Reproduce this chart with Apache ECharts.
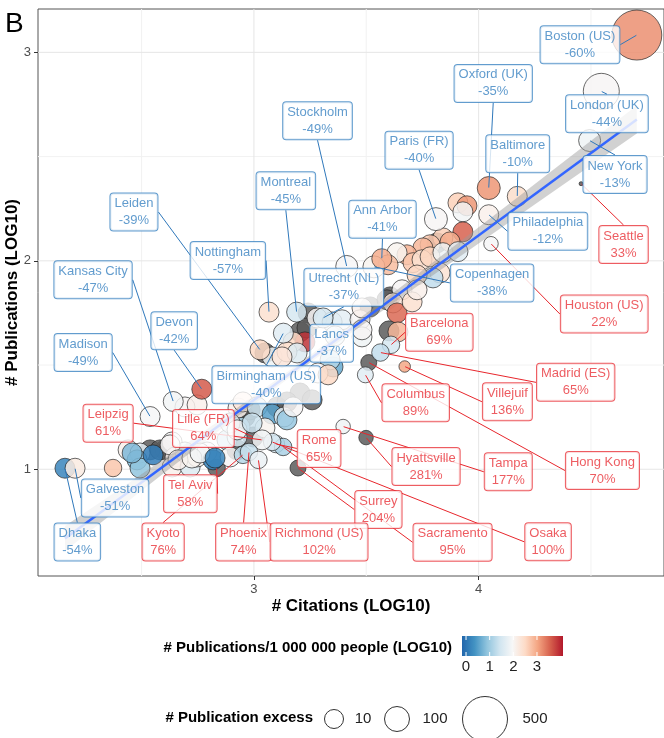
<!DOCTYPE html>
<html>
<head>
<meta charset="utf-8">
<script src="https://cdn.jsdelivr.net/npm/echarts@6/dist/echarts.min.js"></script>
<style>
  html, body { margin: 0; padding: 0; background: #fff; }
  #chart { width: 664px; height: 738px; }
</style>
</head>
<body>
<div id="chart"></div>
<script>
// labelled cities: log10 citations, log10 publications, log10 pubs per million (null = n/a), publication excess
const cityNames = ['Boston (US)', 'London (UK)', 'New York', 'Seattle', 'Oxford (UK)', 'Baltimore', 'Paris (FR)', 'Philadelphia',
  'Houston (US)', 'Copenhagen', 'Ann Arbor', 'Stockholm', 'Utrecht (NL)', 'Lancs', 'Nottingham', 'Montreal', 'Leiden',
  'Kansas City', 'Madison', 'Devon', 'Birmingham (US)', 'Dhaka', 'Galveston', 'Barcelona', 'Madrid (ES)', 'Villejuif',
  'Hong Kong', 'Columbus', 'Hyattsville', 'Tampa', 'Rome', 'Surrey', 'Sacramento', 'Osaka', 'Leipzig', 'Lille (FR)',
  'Tel Aviv', 'Kyoto', 'Phoenix', 'Richmond (US)'];
const cityPct = [-60, -44, -13, 33, -35, -10, -40, -12, 22, -38, -41, -49, -37, -37, -57, -45, -39, -47, -49, -42, -40, -54, -51,
  69, 65, 136, 70, 89, 281, 177, 65, 204, 95, 100, 61, 64, 58, 76, 74, 102];
const cityX = [4.704, 4.546, 4.494, 4.456, 4.045, 4.172, 3.810, 4.045, 4.055, 3.534, 3.569, 3.413, 3.308, 3.361, 3.067, 3.190,
  3.027, 2.641, 2.538, 2.768, 3.131, 2.159, 2.204, 3.610, 3.563, 3.671, 3.511, 3.496, 3.499, 3.397, 3.098, 3.196, 3.130, 3.081,
  3.036, 2.996, 2.834, 2.951, 2.978, 3.020];
const cityY = [3.083, 2.813, 2.577, 2.370, 2.349, 2.309, 2.200, 2.221, 2.082, 1.971, 2.010, 1.973, 1.726, 1.640, 1.754, 1.754,
  1.573, 1.325, 1.253, 1.384, 1.653, 1.005, 1.005, 1.597, 1.560, 1.493, 1.512, 1.453, 1.152, 1.205, 1.121, 1.006, 1.107, 1.131,
  1.141, 1.155, 1.006, 1.069, 1.083, 1.045];
const cityRate = [3.2, 2.0, 1.85, null, 3.15, 2.45, 2.0, 2.1, 1.95, 2.05, 2.95, 1.95, 1.5, 1.6, 2.4, 1.5, 2.5, 1.9, 1.95, 3.6,
  1.65, 0.2, 2.2, 1.5, 1.3, 3.0, null, 1.65, null, 1.85, 1.45, null, 1.1, 1.5, 1.9, null, null, 1.2, 1.35, 1.8];
const cityExcess = [611, 320, 55, 0, 70, 25, 70, 25, 7, 55, 25, 55, 25, 25, 25, 25, 25, 25, 25, 25, 25, 25, 25, 9, 9, 5, 8, 8,
  7, 7, 9, 8, 9, 9, 25, 25, 9, 9, 9, 9];

// where each label box sits (data units, layout only)
const labelX = [4.451, 4.571, 4.607, 4.645, 4.065, 4.174, 3.735, 4.308, 4.559, 4.060, 3.572, 3.283, 3.400, 3.346, 2.884, 3.142,
  2.466, 2.284, 2.240, 2.645, 3.055, 2.214, 2.382, 3.825, 4.432, 4.128, 4.551, 3.720, 3.766, 4.132, 3.290, 3.554, 3.884, 4.309,
  2.351, 2.775, 2.717, 2.596, 2.954, 3.290];
const labelY = [3.037, 2.706, 2.414, 2.078, 2.851, 2.514, 2.530, 2.142, 1.745, 1.894, 2.199, 2.672, 1.873, 1.604, 2.001, 2.336,
  2.234, 1.909, 1.560, 1.665, 1.405, 0.651, 0.862, 1.657, 1.417, 1.324, 0.994, 1.319, 1.013, 0.988, 1.100, 0.807, 0.650, 0.652,
  1.221, 1.196, 0.883, 0.651, 0.651, 0.651];

// unlabelled cities
const otherX = [3.908, 3.948, 3.930, 3.930, 3.841, 3.873, 3.784, 3.815, 3.752, 3.681, 3.637, 3.597, 3.708, 3.748, 3.784, 3.841,
  3.908, 3.828, 3.797, 3.726, 3.606, 3.659, 3.241, 3.281, 3.348, 3.392, 3.472, 3.481, 3.517, 3.592, 3.619, 3.637, 3.704, 3.726,
  3.205, 3.227, 3.174, 3.236, 3.049, 3.081, 3.147, 3.192, 3.352, 3.339, 3.481, 3.481, 3.601, 3.641, 3.125, 2.373, 2.440, 2.493,
  2.480, 2.493, 2.458, 2.551, 2.604, 2.538, 2.636, 2.649, 2.693, 2.636, 2.716, 2.747, 2.791, 2.818, 2.693, 2.747, 2.880, 2.938,
  2.960, 2.929, 2.983, 2.951, 3.014, 3.081, 3.134, 3.147, 3.103, 3.174, 2.925, 3.049, 2.894, 2.925, 2.992, 2.894, 2.925, 2.582,
  2.627, 2.662, 2.724, 2.760, 2.827, 3.205, 3.259, 3.285, 3.330, 3.147];
const otherY = [2.278, 2.264, 2.235, 2.139, 2.110, 2.091, 2.077, 2.086, 2.062, 2.029, 2.039, 1.981, 1.991, 2.005, 2.019, 2.039,
  2.044, 1.942, 1.918, 1.932, 1.827, 1.861, 1.750, 1.726, 1.707, 1.717, 1.717, 1.774, 1.779, 1.813, 1.798, 1.750, 1.803, 1.861,
  1.659, 1.611, 1.611, 1.678, 1.558, 1.539, 1.563, 1.558, 1.491, 1.525, 1.635, 1.669, 1.664, 1.659, 1.539, 1.006, 1.093, 1.078,
  1.045, 1.006, 1.078, 1.069, 1.093, 1.093, 1.131, 1.059, 1.083, 1.011, 1.011, 1.059, 1.083, 1.045, 1.299, 1.309, 1.141, 1.203,
  1.251, 1.294, 1.285, 1.323, 1.299, 1.265, 1.251, 1.237, 1.299, 1.299, 1.155, 1.198, 1.222, 1.189, 1.222, 1.059, 1.093, 1.093,
  1.117, 1.045, 1.054, 1.078, 1.054, 1.366, 1.333, 1.462, 1.453, 1.323];
const otherRate = [2.6, 3.15, 1.9, 3.55, 2.6, 2.95, 2.7, null, 2.85, 2.9, 2.05, 2.8, 2.7, 2.4, 2.55, 1.85,
  1.65, 2.35, 1.3, 2.5, null, 2.0, null, 2.0, 1.45, 1.7, 2.0, 2.1, null, null, 2.3, 3.5, 2.4, 2.1,
  null, 3.9, 2.5, null, null, 1.85, 2.4, 1.6, 0.6, 1.2, 1.85, 2.0, null, 2.85, 2.3, 2.7, 2.1, 1.7,
  0.8, 0.9, 0.75, 0.1, null, null, 2.0, 2.1, 1.7, 2.1, 1.6, 2.05, 1.9, 0.15, 2.0, 2.1, 1.2, 1.1,
  null, 2.1, null, 2.3, 1.4, 0.5, 1.7, 0.95, null, 2.0, 1.5, 2.05, 1.6, 2.0, 1.4, 2.0, null, null,
  2.0, 2.1, 2.05, 1.9, 0.2, null, null, 2.0, 2.5, null];
const otherExcess = [25, 25, 25, 25, 25, 25, 25, 25, 25, 25, 25, 25, 25, 25, 25, 25,
  25, 25, 25, 25, 25, 25, 25, 25, 25, 25, 25, 25, 25, 25, 25, 25, 25, 25,
  25, 25, 25, 25, 25, 25, 25, 25, 25, 25, 25, 25, 25, 25, 25, 9, 25, 25,
  25, 25, 25, 25, 25, 25, 25, 25, 25, 25, 25, 25, 25, 25, 25, 25, 25, 25,
  25, 25, 25, 25, 25, 25, 25, 25, 25, 25, 25, 25, 25, 25, 25, 25, 25, 25,
  25, 25, 25, 25, 25, 25, 25, 25, 25, 25];

// linear fit and its confidence band
const fitX = [2.159, 4.704];
const fitY = [0.668, 2.678];
const bandX = [2.159, 2.4, 2.6, 2.8, 3.0, 3.2, 3.4, 3.6, 3.8, 4.0, 4.2, 4.4, 4.6, 4.704];
const bandLo = [0.608, 0.813, 0.982, 1.149, 1.313, 1.473, 1.629, 1.782, 1.933, 2.083, 2.233, 2.383, 2.533, 2.611];
const bandHi = [0.728, 0.903, 1.050, 1.199, 1.351, 1.507, 1.667, 1.830, 1.995, 2.161, 2.327, 2.493, 2.659, 2.745];

// axes and legends
const xMajor = [3, 4], xMinor = [2.5, 3.5, 4.5];
const yMajor = [1, 2, 3], yMinor = [1.5, 2.5];
const rateTicks = [0, 1, 2, 3];
const excessBreaks = [10, 100, 500];

const FONT = '"Liberation Sans", Arial, Helvetica, sans-serif';
const BLUE = '#3b83c2', RED = '#e8333a';
const BLUE_LINE = '#2f78bb', RED_LINE = '#e8262c';
const W = 664, H = 738;
const GRID = { left: 38, right: 0, top: 9, bottom: 162 };
const X_MIN = 2.039, X_MAX = 4.825, Y_MIN = 0.488, Y_MAX = 3.208;
const RATE_MIN = -0.17, RATE_MAX = 4.1;
const rateColors = ['#2166ac', '#4393c3', '#92c5de', '#d1e5f0', '#f7f7f7', '#fddbc7', '#f4a582', '#d6604d', '#b2182b'];

function px(x) { return GRID.left + (x - X_MIN) / (X_MAX - X_MIN) * (W - GRID.left - GRID.right); }
function py(y) { return GRID.top + (Y_MAX - y) / (Y_MAX - Y_MIN) * (H - GRID.top - GRID.bottom); }

// bubble diameter from publication excess
const sizeKnots = [[0, 4], [10, 19], [100, 25], [500, 45], [700, 54]];
function sizeOf(v) {
  for (let i = 1; i < sizeKnots.length; i++) {
    const a = sizeKnots[i - 1], b = sizeKnots[i];
    if (v <= b[0]) return a[1] + (b[1] - a[1]) * (Math.max(v, a[0]) - a[0]) / (b[0] - a[0]);
  }
  return sizeKnots[sizeKnots.length - 1][1];
}

const colorData = [], grayData = [];
function addPoint(x, y, r, e) {
  if (r == null) grayData.push([x, y, e]);
  else colorData.push([x, y, r, e]);
}
otherX.forEach((x, i) => addPoint(x, otherY[i], otherRate[i], otherExcess[i]));
cityX.forEach((x, i) => addPoint(x, cityY[i], cityRate[i], cityExcess[i]));

const labelData = cityNames.map((n, i) => {
  const neg = cityPct[i] < 0;
  const d = Math.hypot(px(labelX[i]) - px(cityX[i]), py(labelY[i]) - py(cityY[i]));
  return {
    name: n,
    value: [cityX[i], cityY[i]],
    pct: cityPct[i],
    label: { color: neg ? BLUE : RED, borderColor: neg ? BLUE : RED },
    labelLine: { show: d > 16, lineStyle: { color: neg ? BLUE_LINE : RED_LINE } }
  };
});

// legend graphics
const BAR = { x: 462, y: 636, w: 101, h: 20 };
function barX(t) { return BAR.x + (t - RATE_MIN) / (RATE_MAX - RATE_MIN) * BAR.w; }
const graphics = [
  { type: 'text', left: 5, top: 10, style: { text: 'B', font: '28px ' + FONT, fill: '#000' } },
  { type: 'text', x: 452, y: 648, style: { text: '# Publications/1 000 000 people (LOG10)', font: 'bold 15px ' + FONT,
      fill: '#000', align: 'right', verticalAlign: 'middle' } },
  { type: 'rect', shape: { x: BAR.x, y: BAR.y, width: BAR.w, height: BAR.h },
    style: { fill: new echarts.graphic.LinearGradient(0, 0, 1, 0,
      rateColors.map((c, i) => ({ offset: i / (rateColors.length - 1), color: c }))) } },
  { type: 'text', x: 313, y: 718, style: { text: '# Publication excess', font: 'bold 15px ' + FONT,
      fill: '#000', align: 'right', verticalAlign: 'middle' } }
];
rateTicks.forEach(t => {
  const x = barX(t);
  graphics.push({ type: 'line', shape: { x1: x, y1: BAR.y, x2: x, y2: BAR.y + 4 }, style: { stroke: '#fff', lineWidth: 1 } });
  graphics.push({ type: 'line', shape: { x1: x, y1: BAR.y + BAR.h - 4, x2: x, y2: BAR.y + BAR.h }, style: { stroke: '#fff', lineWidth: 1 } });
  graphics.push({ type: 'text', x: x, y: 667, style: { text: String(t), font: '15px ' + FONT, fill: '#222',
      align: 'center', verticalAlign: 'middle' } });
});
const circleX = [334, 397, 485], circleLabelX = [363, 435, 535];
excessBreaks.forEach((v, i) => {
  graphics.push({ type: 'circle', shape: { cx: circleX[i], cy: 719, r: sizeOf(v) / 2 },
    style: { fill: '#fff', stroke: '#333', lineWidth: 1 } });
  graphics.push({ type: 'text', x: circleLabelX[i], y: 719, style: { text: String(v), font: '15px ' + FONT, fill: '#222',
      align: 'center', verticalAlign: 'middle' } });
});

const myChart = echarts.init(document.getElementById('chart'), null, { renderer: 'canvas' });
myChart.setOption({
  animation: false,
  backgroundColor: '#fff',
  grid: { left: GRID.left, right: GRID.right, top: GRID.top, bottom: GRID.bottom, show: true,
    outerBoundsMode: 'none', containLabel: false,
    borderColor: '#555', borderWidth: 1, backgroundColor: '#fff' },
  xAxis: {
    type: 'value', min: X_MIN, max: X_MAX,
    name: '# Citations (LOG10)', nameLocation: 'middle', nameGap: 22, nameMoveOverlap: false,
    nameTextStyle: { fontSize: 17, fontWeight: 'bold', color: '#000', fontFamily: FONT },
    axisLine: { show: false },
    splitLine: { show: false },
    axisTick: { show: true, customValues: xMajor, length: 4, lineStyle: { color: '#333' } },
    axisLabel: { customValues: xMajor, fontSize: 13, color: '#4d4d4d', margin: 7, fontFamily: FONT }
  },
  yAxis: {
    type: 'value', min: Y_MIN, max: Y_MAX,
    name: '# Publications (LOG10)', nameLocation: 'middle', nameGap: 17, nameRotate: 90, nameMoveOverlap: false,
    nameTextStyle: { fontSize: 17, fontWeight: 'bold', color: '#000', fontFamily: FONT },
    axisLine: { show: false },
    splitLine: { show: false },
    axisTick: { show: true, customValues: yMajor, length: 4, lineStyle: { color: '#333' } },
    axisLabel: { customValues: yMajor, fontSize: 13, color: '#4d4d4d', margin: 7, fontFamily: FONT }
  },
  visualMap: {
    type: 'continuous', show: false, seriesIndex: 2, dimension: 2,
    min: RATE_MIN, max: RATE_MAX, inRange: { color: rateColors }
  },
  graphic: graphics,
  series: [
    {
      // panel grid lines
      type: 'custom', z: 0, silent: true,
      data: [[X_MIN, Y_MIN]],
      renderItem: (params, api) => {
        const kids = [];
        const vline = (v, c) => {
          const a = api.coord([v, Y_MIN]), b = api.coord([v, Y_MAX]);
          kids.push({ type: 'line', shape: { x1: a[0], y1: a[1], x2: b[0], y2: b[1] }, style: { stroke: c, lineWidth: 1 } });
        };
        const hline = (v, c) => {
          const a = api.coord([X_MIN, v]), b = api.coord([X_MAX, v]);
          kids.push({ type: 'line', shape: { x1: a[0], y1: a[1], x2: b[0], y2: b[1] }, style: { stroke: c, lineWidth: 1 } });
        };
        xMinor.forEach(v => vline(v, '#f2f2f2'));
        yMinor.forEach(v => hline(v, '#f2f2f2'));
        xMajor.forEach(v => vline(v, '#e6e6e6'));
        yMajor.forEach(v => hline(v, '#e6e6e6'));
        return { type: 'group', children: kids };
      }
    },
    {
      type: 'scatter', z: 2, silent: true,
      data: grayData,
      symbolSize: v => sizeOf(v[2]),
      itemStyle: { color: '#5c5c5c', opacity: 0.85, borderColor: '#222', borderWidth: 0.8 }
    },
    {
      type: 'scatter', z: 2, silent: true,
      data: colorData,
      symbolSize: v => sizeOf(v[3]),
      itemStyle: { opacity: 0.85, borderColor: '#222', borderWidth: 0.8 }
    },
    {
      // confidence band
      type: 'custom', z: 3, silent: true,
      data: [[bandX[0], bandLo[0]]],
      renderItem: (params, api) => {
        const pts = bandX.map((x, i) => api.coord([x, bandHi[i]]));
        for (let i = bandX.length - 1; i >= 0; i--) pts.push(api.coord([bandX[i], bandLo[i]]));
        return { type: 'polygon', shape: { points: pts }, style: { fill: 'rgba(153,153,153,0.45)' } };
      }
    },
    {
      type: 'line', z: 4, silent: true,
      data: fitX.map((x, i) => [x, fitY[i]]),
      symbol: 'none',
      lineStyle: { color: '#3366ff', width: 2.5 }
    },
    {
      // repelled labels
      type: 'scatter', z: 10, silent: true,
      data: labelData,
      symbolSize: 1,
      itemStyle: { color: 'rgba(0,0,0,0)' },
      label: {
        show: true, position: 'right',
        formatter: p => p.name + '\n' + p.data.pct + '%',
        fontSize: 13, lineHeight: 17, fontFamily: FONT, align: 'center',
        backgroundColor: '#fff', borderWidth: 1, borderRadius: 3, padding: [2, 4, 1, 4]
      },
      labelLine: { show: true, length2: 0, smooth: false, lineStyle: { width: 1 } },
      labelLayout: p => ({
        x: px(labelX[p.dataIndex]), y: py(labelY[p.dataIndex]),
        align: 'center', verticalAlign: 'middle'
      })
    }
  ]
});
</script>
</body>
</html>
